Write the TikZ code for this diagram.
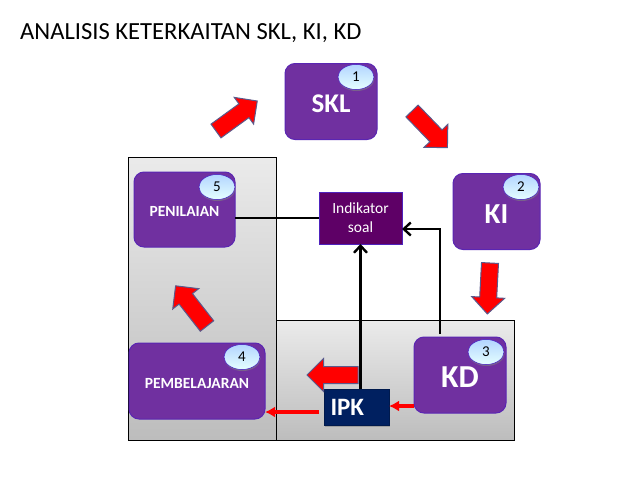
\documentclass[tikz,border=0pt]{standalone}
\usepackage{fontspec}
\setmainfont{Carlito}
\usetikzlibrary{arrows.meta,shapes.geometric,shapes.arrows,shadows}
\definecolor{ungu}{HTML}{7030A0}
\definecolor{unguTua}{HTML}{5E0066}
\definecolor{biruTua}{HTML}{002060}
\definecolor{tepiPanah}{HTML}{5A5A8C}

\begin{document}
\begin{tikzpicture}[x=1pt,y=-1pt]
\tikzset{latar/.style = {draw=black,line width=1pt,top color=black!8,bottom color=black!26,anchor=north west,inner sep=0,outer sep=0,drop shadow={shadow xshift=1pt,shadow yshift=-1pt,opacity=0.3}}}
\tikzset{kotak/.style = {shape=rectangle,rounded corners=10pt,fill=ungu,draw=ungu!80!blue,line width=1pt,text=white,inner sep=0,outer sep=0,text height=14pt,text depth=0pt,font=\bfseries\fontsize{15.5}{17}\selectfont}}
\tikzset{besar/.style = {kotak,minimum width=92,minimum height=76,text height=21pt,font=\bfseries\fontsize{27}{30}\selectfont}}
\tikzset{nomor/.style = {shape=ellipse,top color=cyan!45!blue!30!white,bottom color=cyan!10!white,draw=ungu!60!blue,line width=0.5pt,minimum width=36,minimum height=25,inner sep=0,outer sep=0,font=\fontsize{15}{17}\selectfont,drop shadow={shadow xshift=0.5pt,shadow yshift=-1.5pt,opacity=0.6}}}
\tikzset{panah/.style = {shape=single arrow,fill=red,draw=tepiPanah,line width=1pt,anchor=tail,minimum width=32,minimum height=51,single arrow head extend=8,single arrow head indent=0,inner xsep=0,inner ysep=8,outer sep=0}}
\tikzset{garis/.style = {draw=black,line width=2.8pt}}
\tikzset{garisPanah/.style = {garis,-{Straight Barb[length=7pt,width=13pt,line width=2.4pt]}}}
\tikzset{merah/.style = {draw=red,line width=3.2pt,-{Latex[length=10pt,width=11pt]}}}
\useasboundingbox (0,0) rectangle (638,479);
\fill[white] (0,0) rectangle (638,479);

\node[anchor=base west,inner sep=0,font=\fontsize{24.6}{27}\selectfont] (judul) at (20,39) {ANALISIS KETERKAITAN SKL, KI, KD};

\node[latar,minimum width=148,minimum height=283] (kiri) at (128,157) {};
\node[latar,minimum width=238,minimum height=120] (kanan) at (276,320) {};

\node[besar] (skl) at (331,101.5) {SKL};
\node[besar,minimum width=87,text height=23pt,font=\bfseries\fontsize{29}{31}\selectfont] (ki) at (496.5,211.5) {KI};
\node[besar,text height=25pt,font=\bfseries\fontsize{32}{34}\selectfont] (kd) at (460,375) {KD};
\node[kotak,minimum width=101,minimum height=75] (penilaian) at (184.5,209.5) {PENILAIAN};
\node[kotak,minimum width=136,minimum height=76] (pembelajaran) at (197,381) {PEMBELAJARAN};
\node[shape=rectangle,fill=unguTua,draw=ungu!70!blue,line width=1pt,text=white,minimum width=83,minimum height=52,inner sep=0,outer sep=0,align=center,font=\fontsize{15.5}{19}\selectfont] (indikator) at (360.5,218) {Indikator\\soal};
\node[shape=rectangle,fill=biruTua,draw=biruTua!80!black,text=white,minimum height=36,inner xsep=6.5,inner ysep=0,outer sep=0,text width=52,align=left,font=\bfseries\fontsize{25}{27}\selectfont,drop shadow={shadow xshift=1pt,shadow yshift=-1.5pt,opacity=0.5}] (ipk) at (356.5,407) {IPK};

\node[nomor] (n1) at (356,77) {1};
\node[nomor] (n2) at (521,187) {2};
\node[nomor] (n3) at (486,352) {3};
\node[nomor] (n4) at (242,357) {4};
\node[nomor] (n5) at (217,187) {5};

\node[panah,rotate=36] (p1) at (216,131) {};
\node[panah,rotate=-46] (p2) at (412,111) {};
\node[panah,rotate=-93] (p3) at (490,263) {};
\node[panah,rotate=180] (p4) at (358,375) {};
\node[panah,rotate=128] (p5) at (207,326) {};

\coordinate (kdatas) at (440,334);
\coordinate (belok) at (440,229);
\coordinate (kdkiri) at (414,406);
\coordinate (ipkkiri) at (319,412);

\draw[garis] (penilaian.east |- indikator.west) -- (indikator.west);
\draw[garisPanah] (ipk.north -| indikator.south) -- (indikator.south);
\draw[garisPanah] (kdatas) -- (belok) -- (belok -| indikator.east);
\draw[merah] (kdkiri) -- (ipk.east |- kdkiri);
\draw[merah] (ipkkiri) -- (pembelajaran.east |- ipkkiri);
\end{tikzpicture}
\end{document}
